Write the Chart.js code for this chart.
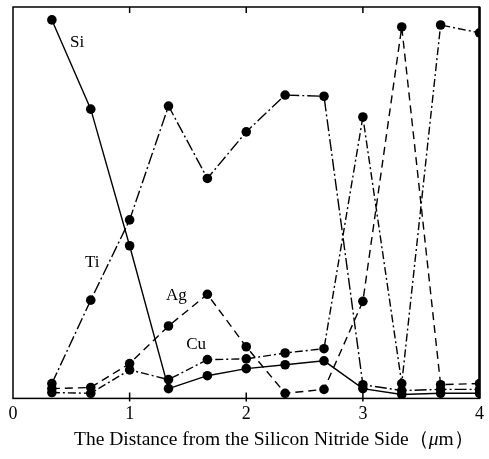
<!DOCTYPE html>
<html>
<head>
<meta charset="utf-8">
<script src="https://cdn.jsdelivr.net/npm/chart.js@4/dist/chart.umd.min.js"></script>
<style>
  html, body { margin: 0; padding: 0; background: #fff; }
  #wrap { width: 489px; height: 459px; }
</style>
</head>
<body>
<div id="wrap"><canvas id="profile"></canvas></div>
<script>
// distance from the silicon nitride side (um)
const distances = [1/3, 2/3, 1, 4/3, 5/3, 2, 7/3, 8/3, 3, 10/3, 11/3, 4];

// relative intensity (0 - 100)
const siValues = [96.7, 73.9, 39.0, 2.5, 5.8, 7.6, 8.6, 9.6, 2.5, 1.0, 1.3, 1.3];
const tiValues = [3.8, 25.1, 45.6, 74.7, 56.2, 68.1, 77.5, 77.2, 3.5, 2.0, 2.3, 2.3];
const agValues = [2.5, 2.8, 8.9, 18.5, 26.6, 13.2, 1.3, 2.3, 24.8, 94.9, 3.5, 3.8];
const cuValues = [1.5, 1.3, 7.3, 4.8, 9.9, 10.1, 11.6, 12.7, 71.9, 3.8, 95.4, 93.4];

const xTicks = [0, 1, 2, 3, 4];

// where the element names sit, in data units
const seriesLabels = [
  { text: 'Si', x: 0.55, y: 91 },
  { text: 'Ti', x: 0.68, y: 34.7 },
  { text: 'Ag', x: 1.40, y: 26.3 },
  { text: 'Cu', x: 1.57, y: 13.7 }
];

// axis title, drawn in pieces so the mu can be italic
const axisTitle = [
  { text: 'The Distance from the Silicon Nitride Side', italic: false },
  { text: '（', italic: false },
  { text: 'μ', italic: true },
  { text: 'm', italic: false },
  { text: '）', italic: false }
];

const serif = '"Liberation Serif", "DejaVu Serif", serif';

const toPoints = (vals) => vals.map((v, i) => ({ x: distances[i], y: v }));

const makeSet = (label, vals, dash) => ({
  label,
  data: toPoints(vals),
  borderColor: '#000',
  backgroundColor: '#000',
  borderWidth: 1.4,
  borderDash: dash,
  pointRadius: 4.8,
  pointBorderWidth: 0,
  pointBackgroundColor: '#000',
  tension: 0
});

// frame, inward ticks, element labels and axis title
const framePlugin = {
  id: 'frame',
  afterDraw(chart) {
    const { ctx, chartArea: a, scales } = chart;
    ctx.save();
    ctx.strokeStyle = '#000';
    ctx.lineWidth = 1.5;
    ctx.strokeRect(a.left, a.top, a.right - a.left, a.bottom - a.top);
    ctx.lineWidth = 2.5;
    ctx.beginPath();
    ctx.moveTo(a.right, a.top);
    ctx.lineTo(a.right, a.bottom);
    ctx.stroke();

    ctx.lineWidth = 1.5;
    xTicks.slice(1, -1).forEach((t) => {
      const px = scales.x.getPixelForValue(t);
      ctx.beginPath();
      ctx.moveTo(px, a.top);
      ctx.lineTo(px, a.top + 6);
      ctx.moveTo(px, a.bottom + 3);
      ctx.lineTo(px, a.bottom - 6);
      ctx.stroke();
    });

    ctx.fillStyle = '#000';
    ctx.font = '17px ' + serif;
    ctx.textAlign = 'center';
    ctx.textBaseline = 'middle';
    seriesLabels.forEach((l) => {
      ctx.fillText(l.text, scales.x.getPixelForValue(l.x), scales.y.getPixelForValue(l.y));
    });

    // axis title under the tick labels
    ctx.textAlign = 'left';
    let tx = 74;
    const ty = a.bottom + 41;
    axisTitle.forEach((p) => {
      ctx.font = (p.italic ? 'italic ' : '') + '19.5px ' + serif;
      ctx.fillText(p.text, tx, ty);
      tx += ctx.measureText(p.text).width;
    });
    ctx.restore();
  }
};

new Chart(document.getElementById('profile'), {
  type: 'line',
  data: {
    datasets: [
      makeSet('Si', siValues, []),
      makeSet('Ti', tiValues, [12, 3, 2, 3]),
      makeSet('Ag', agValues, [8, 5]),
      makeSet('Cu', cuValues, [8, 3, 2, 3])
    ]
  },
  options: {
    responsive: true,
    maintainAspectRatio: false,
    animation: false,
    layout: { padding: { top: 7, left: 13, right: 7, bottom: 29 } },
    plugins: {
      legend: { display: false },
      tooltip: { enabled: false }
    },
    scales: {
      x: {
        type: 'linear',
        min: 0,
        max: 4,
        afterBuildTicks: (scale) => { scale.ticks = xTicks.map((v) => ({ value: v })); },
        grid: { display: false, drawTicks: false },
        border: { display: false },
        ticks: {
          color: '#000',
          padding: 5,
          font: { family: serif, size: 18 }
        }
      },
      y: {
        display: false,
        min: 0,
        max: 100
      }
    }
  },
  plugins: [framePlugin]
});
</script>
</body>
</html>
